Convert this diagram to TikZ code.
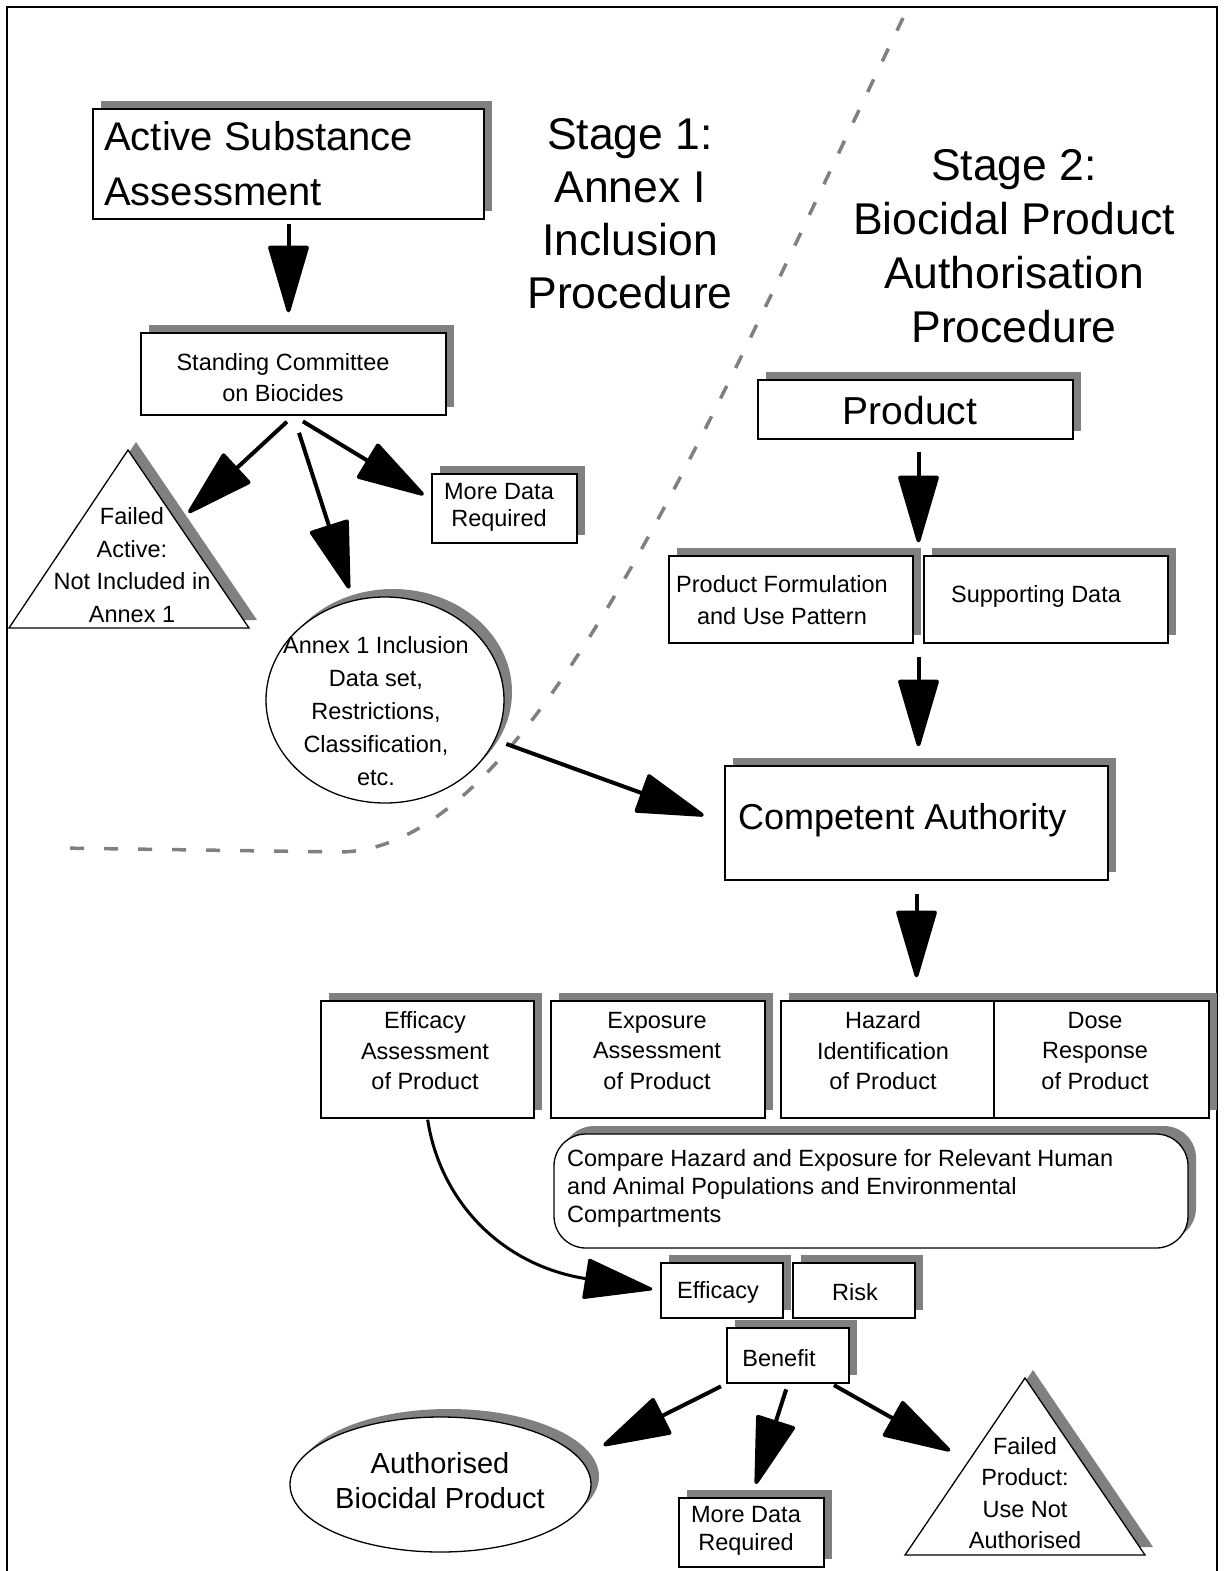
\documentclass[tikz,border=0pt]{standalone}
\usepackage{fontspec}
\setmainfont{Liberation Sans}
\usetikzlibrary{arrows.meta,shadows,calc,shapes.geometric}
\definecolor{shgray}{RGB}{128,128,128}
\newcommand\myfs[2]{\fontsize{#1}{#2}\selectfont}
\begin{document}
\begin{tikzpicture}[x=1pt,y=-1pt,
  shad/.style={drop shadow={shadow xshift=8pt,shadow yshift=8pt,opacity=1,fill=shgray}},
  box/.style={draw, fill=white, line width=1.3pt, inner sep=0pt, rectangle, shad},
  ell/.style={draw, fill=white, line width=1.3pt, inner sep=0pt, ellipse, shad},
  tri/.style={draw, fill=white, line width=1.3pt},
  trishad/.style={fill=shgray},
  txt/.style={align=center, inner sep=0pt, font=\myfs{23.5}{31}},
  arr/.style={line width=4pt, -{Triangle[length=72pt 0 0,width=41pt 0 0,round]}},
  dashline/.style={draw=shgray, line width=3.5pt, dash pattern=on 14pt off 20pt}]
\useasboundingbox (0,0) rectangle (1224,1571);
% frame
\draw[line width=2.5pt] (7,1571) -- (7,7) -- (1217,7) -- (1217,1571);
% dividing line
\draw[dashline] (903,18) .. controls (700,440) and (530,850) .. (340,852) -- (58,848);

% ---- Stage 1 ----
\node[box, minimum width=391pt, minimum height=110pt] (act) at (288.5,164) {};
\node[anchor=west, align=left, inner sep=0pt, font=\myfs{40}{55}] (actt) at (104,164) {Active Substance\\Assessment};
\node[align=center, inner sep=0pt, font=\myfs{44.5}{53}] (st1) at (630,214) {Stage 1:\\Annex I\\Inclusion\\Procedure};
\node[align=center, inner sep=0pt, font=\myfs{44.5}{54}] (st2) at (1014,246) {Stage 2:\\Biocidal Product\\Authorisation\\Procedure};

\node[box, minimum width=305pt, minimum height=82pt] (scb) at (293.5,374) {};
\node[txt] (scbt) at (283,378) {Standing Committee\\on Biocides};

\node[box, minimum width=145pt, minimum height=69pt] (md1) at (504.5,508.5) {};
\node[txt, font=\myfs{23.5}{27}] (md1t) at (499,507) {More Data\\Required};

\fill[trishad] (136,442) -- (17,620) -- (257,620) -- cycle;
\draw[tri] (128,450) -- (9,628) -- (249,628) -- cycle;
\node[txt, font=\myfs{23.5}{32.5}] (fat) at (132,565) {Failed\\Active:\\Not Included in\\Annex 1};

\node[ell, minimum width=238pt, minimum height=206pt] (ann) at (385,700) {};
\node[txt, font=\myfs{23.5}{33}] (annt) at (376,711) {Annex 1 Inclusion\\Data set,\\Restrictions,\\Classification,\\etc.};

% ---- Stage 2 ----
\node[box, minimum width=315pt, minimum height=59pt] (prod) at (915.5,409.5) {};
\node[txt, font=\myfs{39}{45}] (prodt) at (910,411) {Product};

\node[box, minimum width=244pt, minimum height=87pt] (pf) at (791,599.5) {};
\node[txt, font=\myfs{23.5}{32}] (pft) at (782,600) {Product Formulation\\and Use Pattern};
\node[box, minimum width=244pt, minimum height=87pt] (sd) at (1046,599.5) {};
\node[txt] (sdt) at (1036,596) {Supporting Data};

\node[box, minimum width=383pt, minimum height=114pt] (ca) at (916.5,823) {};
\node[anchor=west, inner sep=0pt, font=\myfs{36}{40}] (cat) at (738,820) {Competent Authority};

\node[box, minimum width=213pt, minimum height=117pt] (eff) at (427.5,1059.5) {};
\node[box, minimum width=214pt, minimum height=117pt] (exp) at (658,1059.5) {};
\node[box, minimum width=213pt, minimum height=117pt] (haz) at (887.5,1059.5) {};
\node[box, minimum width=215pt, minimum height=117pt] (dose) at (1101.5,1059.5) {};
\node[txt, font=\myfs{23.5}{30.5}] (efft) at (425,1051) {Efficacy\\Assessment\\of Product};
\node[txt, font=\myfs{23.5}{30.5}] (expt) at (657,1051) {Exposure\\Assessment\\of Product};
\node[txt, font=\myfs{23.5}{30.5}] (hazt) at (883,1051) {Hazard\\Identification\\of Product};
\node[txt, font=\myfs{23.5}{30.5}] (doset) at (1095,1051) {Dose\\Response\\of Product};

\node[box, rounded corners=32pt, minimum width=634pt, minimum height=114pt] (cmp) at (871,1191) {};
\node[anchor=west, align=left, inner sep=0pt, font=\myfs{23.5}{28}] (cmpt) at (567,1188) {Compare Hazard and Exposure for Relevant Human\\and Animal Populations and Environmental\\Compartments};

\node[box, minimum width=122pt, minimum height=55pt] (effs) at (722,1290.5) {};
\node[txt] (effst) at (718,1292) {Efficacy};
\node[box, minimum width=122pt, minimum height=55pt] (risk) at (854,1290.5) {};
\node[txt] (riskt) at (855,1292) {Risk};
\node[box, minimum width=122pt, minimum height=55pt] (ben) at (788,1355.5) {};
\node[txt] (bent) at (779,1358) {Benefit};

\node[ell, minimum width=301pt, minimum height=135pt] (auth) at (440.5,1484.5) {};
\node[txt, font=\myfs{29}{35}] (autht) at (440,1481) {Authorised\\Biocidal Product};

\node[box, minimum width=145pt, minimum height=69pt] (md2) at (751.5,1532.5) {};
\node[txt, font=\myfs{23.5}{28}] (md2t) at (746,1531) {More Data\\Required};

\fill[trishad] (1033,1370) -- (913,1547) -- (1153,1547) -- cycle;
\draw[tri] (1025,1378) -- (905,1555) -- (1145,1555) -- cycle;
\node[txt, font=\myfs{23.5}{31.5}] (fpt) at (1025,1493) {Failed\\Product:\\Use Not\\Authorised};

% ---- connectors ----
\draw[arr, shorten <=4pt, shorten >=20pt] (act.south) -- (act.south |- scb.north);
\draw[arr, shorten <=9pt, shorten >=77pt] (scb.south) -- (fat.center);
\draw[arr, shorten <=18pt, shorten >=117pt] (scb.south) -- (ann.center);
\draw[arr, shorten <=11pt, shorten >=9pt] (scb.south) -- (md1.173);
\draw[arr, shorten <=129pt, shorten >=22pt] (ann.center) -- (ca.west);
\coordinate (j1) at ($(pf.north east)!0.5!(sd.north west)$);
\draw[arr, shorten <=12pt, shorten >=13pt] (prod.south -| j1) -- (j1);
\coordinate (j2) at ($(pf.south east)!0.5!(sd.south west)$);
\draw[arr, shorten <=13pt, shorten >=19pt] (j2) -- (j2 |- ca.north);
\draw[arr, shorten <=13pt, shorten >=23pt] (ca.south) -- (ca.south |- haz.north);
\draw[arr, line width=3pt, shorten <=1pt, shorten >=8pt] (eff.south) .. controls (440,1200) and (500,1265) .. (effs.west);
\draw[arr, shorten <=6pt, shorten >=27pt] (ben.south west) -- (auth.11);
\draw[arr, shorten <=6pt, shorten >=14pt] (ben.south) -- (md2.north);
\draw[arr, shorten <=3pt, shorten >=86pt] (ben.-33) -- (fpt.center);
\end{tikzpicture}
\end{document}
